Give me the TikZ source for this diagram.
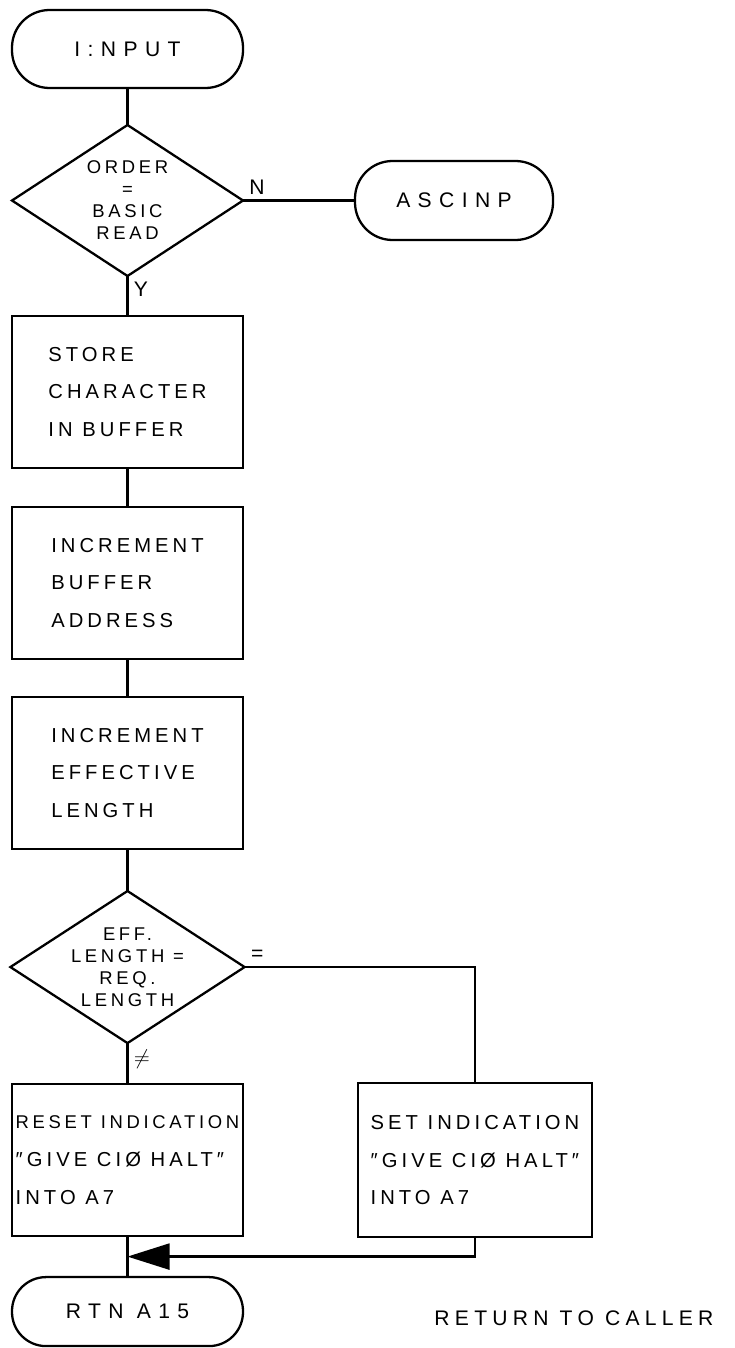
\documentclass[tikz,border=0pt]{standalone}
\usepackage{fontspec}
\setmainfont{Liberation Sans}[LetterSpace=15]
\newfontfamily\boxfont{Liberation Sans}[LetterSpace=20]
\newfontfamily\termfont{Liberation Sans}[LetterSpace=35]
\newfontfamily\notefont{Liberation Sans}[LetterSpace=25]
\usetikzlibrary{arrows.meta, positioning, shapes.geometric, calc}

\begin{document}
\begin{tikzpicture}[
    node distance=0.8cm,
    line width=1.3pt,
    term/.style={draw, outer sep=0pt, rounded corners=0.75cm, minimum width=4.62cm, minimum height=1.56cm, align=center, font=\termfont\fontsize{12}{14}\selectfont},
    proc/.style={draw, outer sep=0pt, minimum width=4.62cm, minimum height=3.04cm, align=left, font=\boxfont\fontsize{11.5}{21.5}\selectfont},
    dec/.style={draw, outer sep=0pt, diamond, aspect=1.54, inner sep=0pt, minimum width=4.62cm, minimum height=3.02cm, align=center, font=\boxfont\fontsize{10.5}{12.5}\selectfont},
    lbl/.style={font=\fontsize{12}{14}\selectfont, inner sep=3pt},
    >=Stealth
]
    \useasboundingbox (0,0) rectangle (14.7,-26.96);
    \node[term] (inp) at (2.55,-0.98) {I:NPUT};
    \node[dec, below=0.74cm of inp] (dord) {ORDER\\=\\BASIC\\READ};
    \node[term, right=2.24cm of dord, minimum width=3.96cm, minimum height=1.58cm] (asc) {ASCINP};
    \node[proc, below=0.8cm of dord] (store) {STORE\\CHARACTER\\IN BUFFER};
    \node[proc, below=0.78cm of store] (incbuf) {INCREMENT\\BUFFER\\ADDRESS};
    \node[proc, below=0.76cm of incbuf] (inclen) {INCREMENT\\EFFECTIVE\\LENGTH};
    \node[dec, below=0.84cm of inclen] (dlen) {EFF.\\LENGTH =\\REQ.\\LENGTH};
    \node[proc, inner xsep=2pt, below=0.82cm of dlen] (reset) {{\fontsize{10.5}{21.5}\selectfont RESET INDICATION}\\″GIVE CIØ HALT″\\INTO A7};
    \node[proc, right=2.3cm of reset, minimum width=4.68cm, minimum height=3.08cm] (set) {SET INDICATION\\″GIVE CIØ HALT″\\INTO A7};
    \node[term, below=0.82cm of reset, minimum height=1.38cm, rounded corners=0.68cm] (rtn) {RTN A15};
    \node[lbl, font=\notefont\fontsize{12}{14}\selectfont, right=3.7cm of rtn, yshift=-0.14cm] (caller) {RETURN TO CALLER};
    \coordinate (join) at ($(reset.south)!0.5!(rtn.north)$);
    \draw (inp) -- (dord);
    \draw (dord.east) node[lbl, above right] {N} -- (asc);
    \draw (dord.south) node[lbl, below right] {Y} -- (store);
    \draw (store) -- (incbuf);
    \draw (incbuf) -- (inclen);
    \draw (inclen) -- (dlen);
    \draw (dlen.east) node[lbl, above right] {=} -| (set.north);
    \draw (dlen.south) node[lbl, below right] {$\neq$} -- (reset);
    \draw (reset) -- (rtn);
    \draw[-{Triangle[length=0.84cm, width=0.52cm]}] (set.south) |- (join);
\end{tikzpicture}
\end{document}
